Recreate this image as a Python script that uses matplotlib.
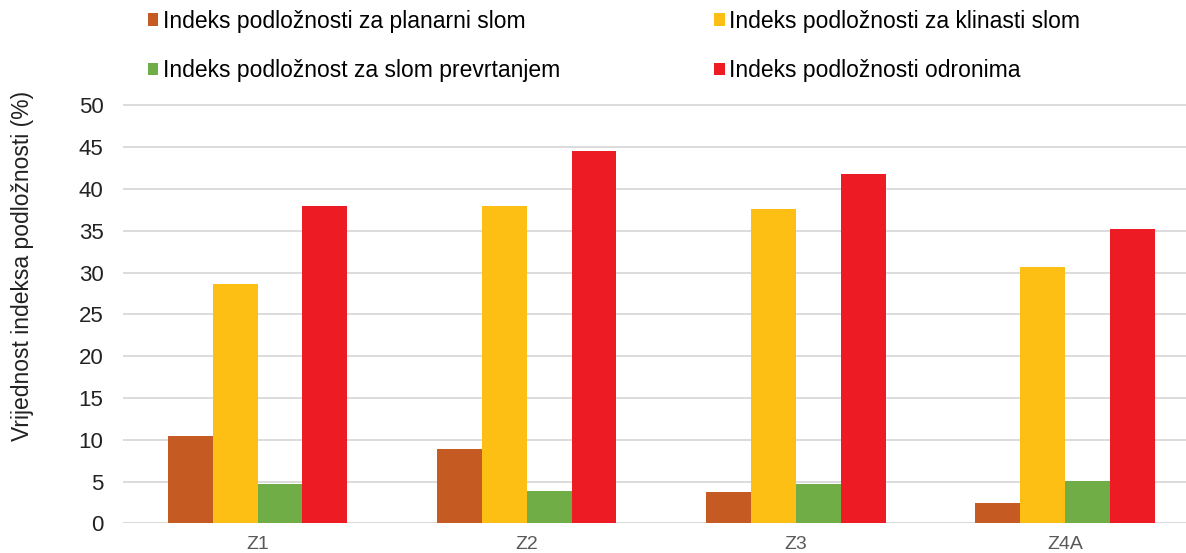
import numpy as np
import matplotlib.pyplot as plt

plt.rcParams['font.family'] = ['Liberation Sans', 'DejaVu Sans']

zones = ['Z1', 'Z2', 'Z3', 'Z4A']
planarni = [10.48, 8.86, 3.75, 2.44]
klinasti = [28.6, 37.97, 37.65, 30.7]
prevrtanje = [4.67, 3.87, 4.67, 5.03]
odroni = [37.97, 44.55, 41.8, 35.2]

labels = ['Indeks podložnosti za planarni slom',
          'Indeks podložnosti za klinasti slom',
          'Indeks podložnost za slom prevrtanjem',
          'Indeks podložnosti odronima']
colors = ['#C55A23', '#FDBF13', '#70AD47', '#ED1C24']

fig = plt.figure(figsize=(11.86, 5.53), dpi=100)
# y range a touch above 50 so the top gridline is not clipped
ytop = 50.3
ppu = 8.356
ax = fig.add_axes([123 / 1186, 1 - 523.3 / 553, 1 - 123 / 1186, ytop * ppu / 553])

x = np.arange(len(zones))
w = 0.1667
series = [planarni, klinasti, prevrtanje, odroni]
bars = []
for i, (vals, c, lab) in enumerate(zip(series, colors, labels)):
    b = ax.bar(x + (i - 1.5) * w, vals, width=w, color=c, label=lab, zorder=3)
    bars.append(b)

ax.set_xlim(-0.5, 3.45)
ax.set_ylim(0, ytop)
ax.set_yticks(range(0, 51, 5))
ax.yaxis.grid(True, color='#D9D9D9', linewidth=1.3, zorder=0)
ax.set_axisbelow(True)
for s in ax.spines.values():
    s.set_visible(False)
ax.axhline(0, color='#D9D9D9', linewidth=1.3, zorder=1)
ax.tick_params(axis='both', length=0)
ax.tick_params(axis='y', labelsize=16, labelcolor='#222222', pad=14)
ax.set_xticks(x)
ax.set_xticklabels(zones, fontsize=14, color='#595959')
ax.tick_params(axis='x', pad=9)
ax.set_ylabel('Vrijednost indeksa podložnosti (%)', fontsize=16.5, color='#222222')
ax.yaxis.set_label_coords(-(123 - 34) / 1063, (523.3 - 266) / (ytop * ppu))

# two-column legend: planar/toppling on the left, wedge/rockfall on the right
order = [0, 2, 1, 3]
fig.legend([bars[i] for i in order], [labels[i] for i in order],
           ncol=2, loc='upper left', bbox_to_anchor=(127 / 1186, 1.02),
           frameon=False, fontsize=16.5, handlelength=0.45, handleheight=0.45,
           handletextpad=0.2, columnspacing=6.75, labelspacing=1.15)

fig.savefig('out.png', dpi=100, facecolor='white')
